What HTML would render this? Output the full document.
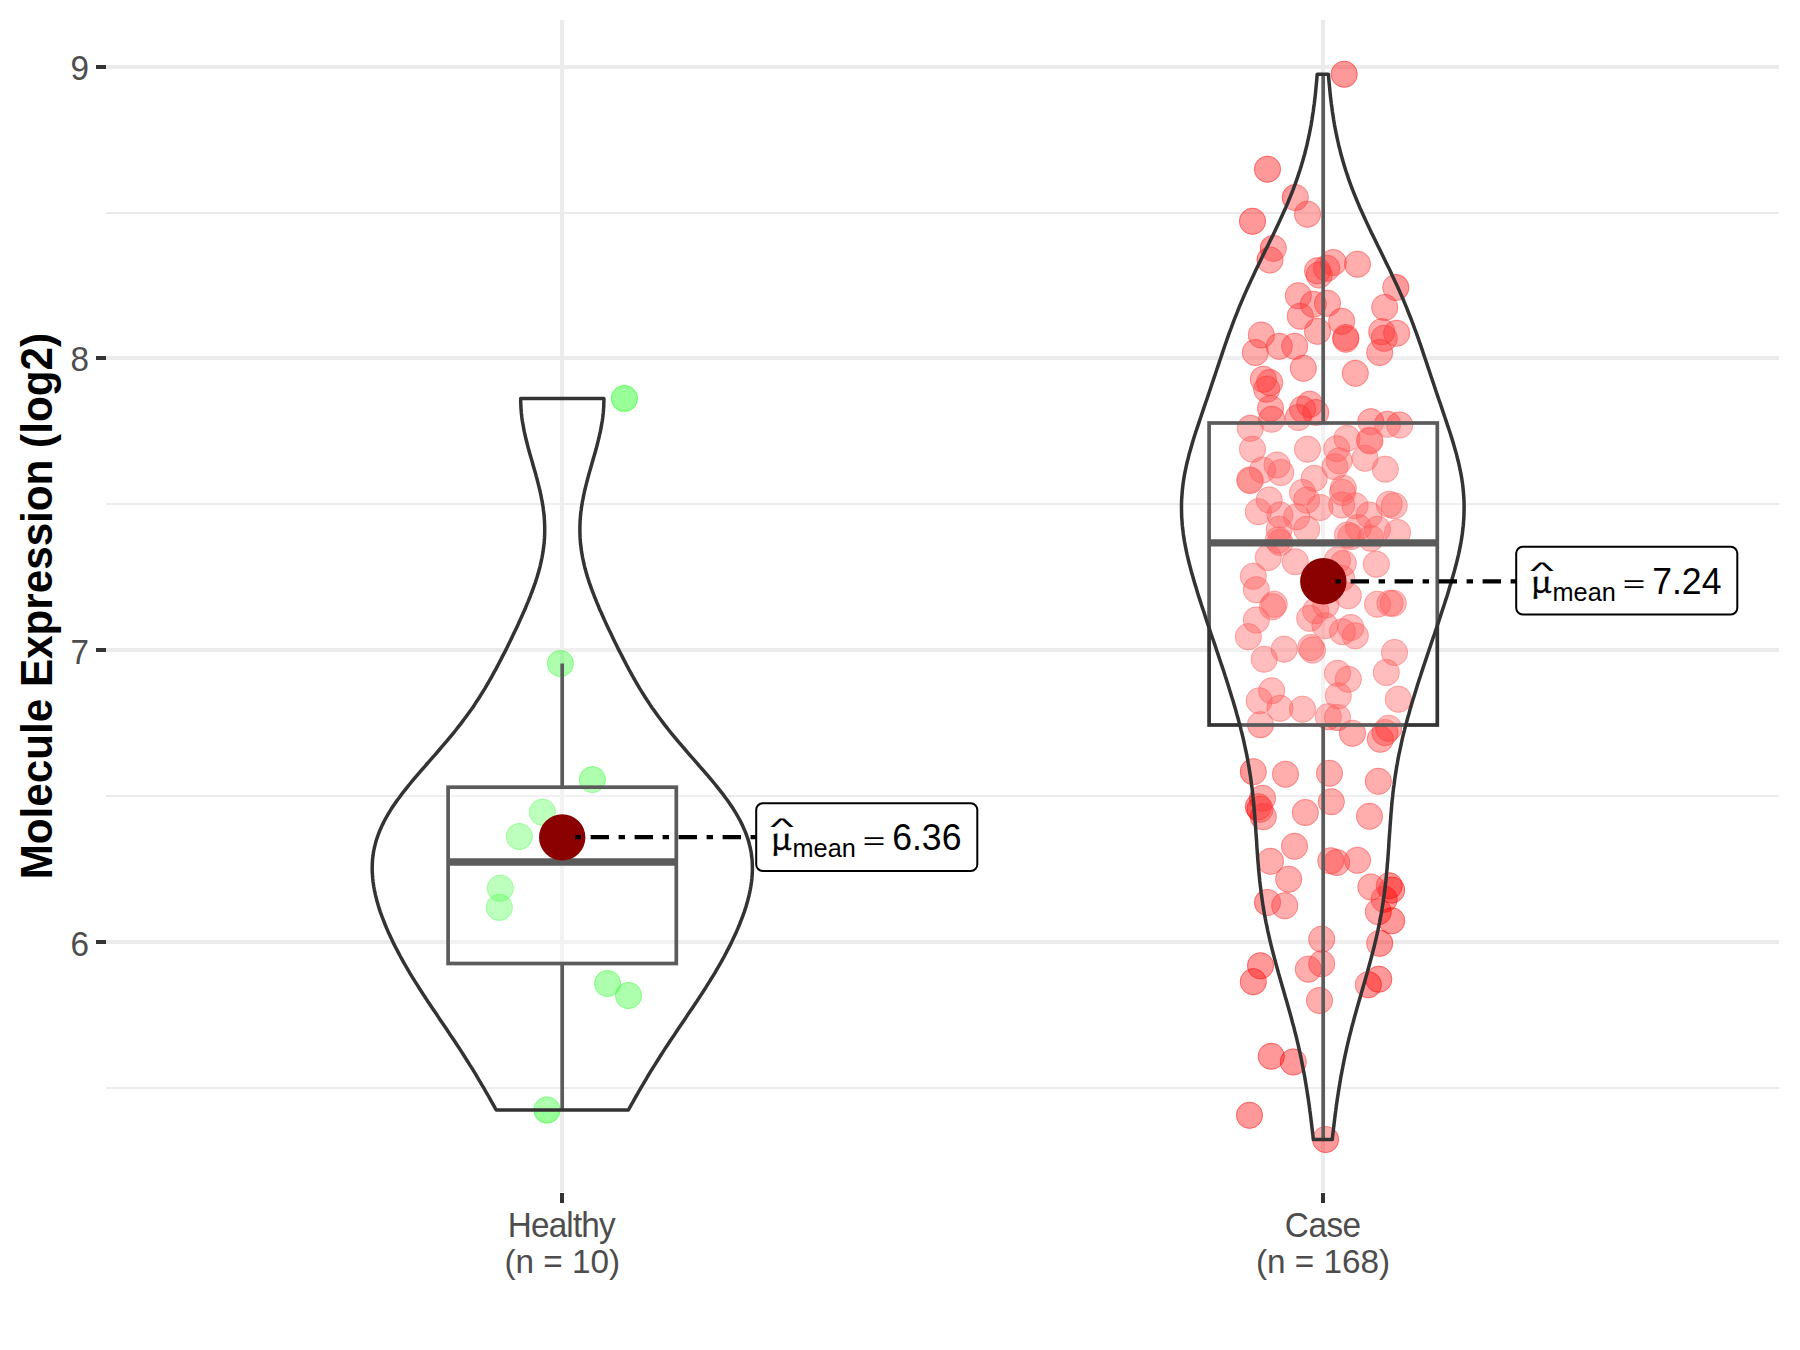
<!DOCTYPE html>
<html lang="en"><head><meta charset="utf-8"><title>Molecule Expression violin plot</title>
<style>html,body{margin:0;padding:0;background:#fff;overflow:hidden}svg{display:block}text{font-family:"Liberation Sans",Arial,sans-serif}.ax{font-size:33.3px;fill:#4D4D4D}.ttl{font-size:42.2px;font-weight:bold;fill:#000}.mu{font-family:"Noto Serif CJK SC","Liberation Serif",serif;font-size:30.5px;fill:#000}.eq{font-size:24.5px;fill:#000}.hat{font-size:23px;fill:#000}.lb{font-size:35.6px;fill:#000}.sub{font-size:25.3px;fill:#000}</style></head><body>
<svg width="1800" height="1350" viewBox="0 0 1800 1350">
<rect x="0" y="0" width="1800" height="1350" fill="#FFFFFF"/>
<g fill="#EBEBEB" shape-rendering="crispEdges">
<rect x="106.2" y="212.0" width="1672.8" height="2"/>
<rect x="106.2" y="503.0" width="1672.8" height="2"/>
<rect x="106.2" y="795.0" width="1672.8" height="2"/>
<rect x="106.2" y="1087.0" width="1672.8" height="2"/>
<rect x="106.2" y="65.0" width="1672.8" height="4"/>
<rect x="106.2" y="356.0" width="1672.8" height="4"/>
<rect x="106.2" y="648.0" width="1672.8" height="4"/>
<rect x="106.2" y="940.0" width="1672.8" height="4"/>
<rect x="560.0" y="20.0" width="4" height="1172.3"/>
<rect x="1321.0" y="20.0" width="4" height="1172.3"/>
</g>
<g fill="#00FF00" fill-opacity="0.4">
<circle cx="624.4" cy="398.4" r="13.45"/>
<circle cx="560.4" cy="663.5" r="13.45"/>
<circle cx="592.4" cy="779.6" r="13.45"/>
<circle cx="542.4" cy="812.2" r="13.45"/>
<circle cx="519.3" cy="836.5" r="13.45"/>
<circle cx="500.3" cy="888.3" r="13.45"/>
<circle cx="499.3" cy="907.4" r="13.45"/>
<circle cx="607.5" cy="983.5" r="13.45"/>
<circle cx="628.5" cy="995.5" r="13.45"/>
<circle cx="547.0" cy="1110.0" r="13.45"/>
</g>
<g fill="none" stroke="#00FF00" stroke-opacity="0.4" stroke-width="0.9">
<circle cx="624.4" cy="398.4" r="13"/>
<circle cx="560.4" cy="663.5" r="13"/>
<circle cx="592.4" cy="779.6" r="13"/>
<circle cx="542.4" cy="812.2" r="13"/>
<circle cx="519.3" cy="836.5" r="13"/>
<circle cx="500.3" cy="888.3" r="13"/>
<circle cx="499.3" cy="907.4" r="13"/>
<circle cx="607.5" cy="983.5" r="13"/>
<circle cx="628.5" cy="995.5" r="13"/>
<circle cx="547.0" cy="1110.0" r="13"/>
</g>
<g fill="#FF0000" fill-opacity="0.4">
<circle cx="1344.2" cy="74.2" r="13.45"/>
<circle cx="1267.5" cy="169.2" r="13.45"/>
<circle cx="1295.3" cy="197.5" r="13.45"/>
<circle cx="1307.5" cy="214.2" r="13.45"/>
<circle cx="1252.5" cy="221.3" r="13.45"/>
<circle cx="1273.3" cy="248.3" r="13.45"/>
<circle cx="1270.0" cy="260.0" r="13.45"/>
<circle cx="1357.5" cy="264.2" r="13.45"/>
<circle cx="1333.3" cy="262.5" r="13.45"/>
<circle cx="1326.7" cy="268.3" r="13.45"/>
<circle cx="1317.5" cy="270.8" r="13.45"/>
<circle cx="1319.2" cy="275.0" r="13.45"/>
<circle cx="1395.8" cy="287.5" r="13.45"/>
<circle cx="1298.3" cy="295.8" r="13.45"/>
<circle cx="1313.3" cy="304.2" r="13.45"/>
<circle cx="1327.5" cy="303.3" r="13.45"/>
<circle cx="1384.7" cy="307.5" r="13.45"/>
<circle cx="1300.3" cy="316.3" r="13.45"/>
<circle cx="1341.7" cy="321.3" r="13.45"/>
<circle cx="1317.5" cy="331.3" r="13.45"/>
<circle cx="1261.3" cy="335.0" r="13.45"/>
<circle cx="1345.8" cy="337.5" r="13.45"/>
<circle cx="1345.8" cy="339.2" r="13.45"/>
<circle cx="1381.7" cy="331.7" r="13.45"/>
<circle cx="1396.7" cy="333.3" r="13.45"/>
<circle cx="1384.2" cy="338.3" r="13.45"/>
<circle cx="1279.2" cy="346.3" r="13.45"/>
<circle cx="1294.7" cy="346.3" r="13.45"/>
<circle cx="1255.3" cy="352.5" r="13.45"/>
<circle cx="1379.7" cy="352.5" r="13.45"/>
<circle cx="1303.3" cy="368.3" r="13.45"/>
<circle cx="1355.3" cy="373.3" r="13.45"/>
<circle cx="1263.3" cy="379.2" r="13.45"/>
<circle cx="1269.7" cy="382.5" r="13.45"/>
<circle cx="1266.7" cy="389.2" r="13.45"/>
<circle cx="1270.5" cy="408.3" r="13.45"/>
<circle cx="1271.7" cy="419.2" r="13.45"/>
<circle cx="1309.7" cy="404.2" r="13.45"/>
<circle cx="1302.5" cy="409.2" r="13.45"/>
<circle cx="1298.3" cy="417.5" r="13.45"/>
<circle cx="1315.8" cy="412.5" r="13.45"/>
<circle cx="1250.3" cy="428.3" r="13.45"/>
<circle cx="1370.8" cy="421.7" r="13.45"/>
<circle cx="1387.5" cy="424.2" r="13.45"/>
<circle cx="1399.7" cy="425.0" r="13.45"/>
<circle cx="1347.0" cy="438.3" r="13.45"/>
<circle cx="1369.5" cy="440.3" r="13.45"/>
<circle cx="1336.7" cy="448.7" r="13.45"/>
<circle cx="1307.5" cy="449.2" r="13.45"/>
<circle cx="1252.5" cy="449.2" r="13.45"/>
<circle cx="1339.2" cy="460.8" r="13.45"/>
<circle cx="1365.0" cy="458.3" r="13.45"/>
<circle cx="1277.0" cy="465.0" r="13.45"/>
<circle cx="1262.5" cy="470.0" r="13.45"/>
<circle cx="1280.8" cy="472.5" r="13.45"/>
<circle cx="1335.0" cy="466.7" r="13.45"/>
<circle cx="1385.3" cy="469.2" r="13.45"/>
<circle cx="1249.7" cy="480.0" r="13.45"/>
<circle cx="1314.2" cy="478.3" r="13.45"/>
<circle cx="1343.3" cy="488.3" r="13.45"/>
<circle cx="1302.5" cy="492.5" r="13.45"/>
<circle cx="1342.5" cy="492.5" r="13.45"/>
<circle cx="1269.2" cy="500.0" r="13.45"/>
<circle cx="1306.7" cy="500.0" r="13.45"/>
<circle cx="1389.2" cy="504.2" r="13.45"/>
<circle cx="1394.2" cy="505.8" r="13.45"/>
<circle cx="1258.3" cy="511.7" r="13.45"/>
<circle cx="1280.0" cy="515.0" r="13.45"/>
<circle cx="1279.2" cy="529.2" r="13.45"/>
<circle cx="1278.3" cy="540.0" r="13.45"/>
<circle cx="1280.0" cy="542.5" r="13.45"/>
<circle cx="1296.7" cy="516.7" r="13.45"/>
<circle cx="1306.7" cy="529.2" r="13.45"/>
<circle cx="1320.0" cy="507.5" r="13.45"/>
<circle cx="1341.7" cy="505.0" r="13.45"/>
<circle cx="1355.0" cy="505.8" r="13.45"/>
<circle cx="1369.2" cy="515.0" r="13.45"/>
<circle cx="1377.5" cy="529.2" r="13.45"/>
<circle cx="1397.5" cy="532.5" r="13.45"/>
<circle cx="1347.5" cy="535.0" r="13.45"/>
<circle cx="1350.8" cy="536.7" r="13.45"/>
<circle cx="1370.8" cy="538.3" r="13.45"/>
<circle cx="1358.3" cy="527.5" r="13.45"/>
<circle cx="1268.3" cy="557.5" r="13.45"/>
<circle cx="1295.3" cy="561.7" r="13.45"/>
<circle cx="1337.5" cy="560.0" r="13.45"/>
<circle cx="1343.3" cy="563.3" r="13.45"/>
<circle cx="1376.3" cy="564.2" r="13.45"/>
<circle cx="1253.3" cy="576.3" r="13.45"/>
<circle cx="1256.3" cy="589.7" r="13.45"/>
<circle cx="1341.7" cy="578.3" r="13.45"/>
<circle cx="1348.3" cy="595.8" r="13.45"/>
<circle cx="1274.2" cy="604.2" r="13.45"/>
<circle cx="1272.5" cy="606.7" r="13.45"/>
<circle cx="1377.5" cy="604.2" r="13.45"/>
<circle cx="1390.0" cy="603.3" r="13.45"/>
<circle cx="1393.3" cy="603.3" r="13.45"/>
<circle cx="1315.8" cy="610.8" r="13.45"/>
<circle cx="1325.8" cy="605.0" r="13.45"/>
<circle cx="1256.3" cy="620.0" r="13.45"/>
<circle cx="1309.7" cy="618.3" r="13.45"/>
<circle cx="1325.0" cy="625.8" r="13.45"/>
<circle cx="1342.5" cy="631.7" r="13.45"/>
<circle cx="1350.8" cy="627.5" r="13.45"/>
<circle cx="1355.3" cy="635.8" r="13.45"/>
<circle cx="1248.3" cy="636.7" r="13.45"/>
<circle cx="1284.2" cy="649.2" r="13.45"/>
<circle cx="1310.8" cy="647.5" r="13.45"/>
<circle cx="1312.5" cy="650.0" r="13.45"/>
<circle cx="1264.2" cy="659.2" r="13.45"/>
<circle cx="1394.5" cy="652.5" r="13.45"/>
<circle cx="1337.5" cy="673.3" r="13.45"/>
<circle cx="1348.3" cy="679.2" r="13.45"/>
<circle cx="1386.3" cy="672.5" r="13.45"/>
<circle cx="1271.7" cy="690.8" r="13.45"/>
<circle cx="1259.2" cy="700.8" r="13.45"/>
<circle cx="1338.3" cy="695.8" r="13.45"/>
<circle cx="1398.3" cy="699.2" r="13.45"/>
<circle cx="1280.0" cy="708.3" r="13.45"/>
<circle cx="1302.5" cy="709.2" r="13.45"/>
<circle cx="1328.3" cy="716.7" r="13.45"/>
<circle cx="1337.5" cy="717.5" r="13.45"/>
<circle cx="1260.5" cy="724.7" r="13.45"/>
<circle cx="1352.5" cy="733.3" r="13.45"/>
<circle cx="1388.7" cy="728.3" r="13.45"/>
<circle cx="1385.0" cy="732.5" r="13.45"/>
<circle cx="1380.3" cy="739.2" r="13.45"/>
<circle cx="1253.3" cy="771.7" r="13.45"/>
<circle cx="1285.5" cy="774.2" r="13.45"/>
<circle cx="1329.5" cy="773.3" r="13.45"/>
<circle cx="1378.3" cy="781.3" r="13.45"/>
<circle cx="1262.5" cy="798.3" r="13.45"/>
<circle cx="1258.3" cy="806.7" r="13.45"/>
<circle cx="1260.0" cy="809.2" r="13.45"/>
<circle cx="1263.3" cy="816.7" r="13.45"/>
<circle cx="1331.3" cy="801.7" r="13.45"/>
<circle cx="1305.3" cy="812.5" r="13.45"/>
<circle cx="1369.5" cy="816.3" r="13.45"/>
<circle cx="1294.5" cy="846.3" r="13.45"/>
<circle cx="1270.5" cy="861.3" r="13.45"/>
<circle cx="1330.8" cy="860.8" r="13.45"/>
<circle cx="1336.7" cy="862.5" r="13.45"/>
<circle cx="1357.5" cy="860.3" r="13.45"/>
<circle cx="1288.7" cy="879.2" r="13.45"/>
<circle cx="1370.8" cy="887.0" r="13.45"/>
<circle cx="1389.2" cy="885.8" r="13.45"/>
<circle cx="1391.7" cy="890.0" r="13.45"/>
<circle cx="1384.2" cy="899.2" r="13.45"/>
<circle cx="1267.5" cy="902.5" r="13.45"/>
<circle cx="1284.7" cy="905.8" r="13.45"/>
<circle cx="1378.3" cy="911.7" r="13.45"/>
<circle cx="1391.7" cy="920.8" r="13.45"/>
<circle cx="1321.7" cy="939.2" r="13.45"/>
<circle cx="1379.7" cy="943.3" r="13.45"/>
<circle cx="1260.5" cy="965.8" r="13.45"/>
<circle cx="1308.3" cy="969.2" r="13.45"/>
<circle cx="1321.7" cy="963.7" r="13.45"/>
<circle cx="1253.3" cy="981.7" r="13.45"/>
<circle cx="1378.8" cy="979.2" r="13.45"/>
<circle cx="1368.3" cy="984.7" r="13.45"/>
<circle cx="1319.5" cy="1000.5" r="13.45"/>
<circle cx="1271.2" cy="1056.3" r="13.45"/>
<circle cx="1293.3" cy="1062.0" r="13.45"/>
<circle cx="1249.5" cy="1115.3" r="13.45"/>
<circle cx="1325.6" cy="1139.5" r="13.45"/>
<circle cx="1250.3" cy="480.6" r="13.45"/>
<circle cx="1370.0" cy="440.9" r="13.45"/>
<circle cx="1323.0" cy="581.0" r="13.45"/>
</g>
<g fill="none" stroke="#FF0000" stroke-opacity="0.4" stroke-width="0.9">
<circle cx="1344.2" cy="74.2" r="13"/>
<circle cx="1267.5" cy="169.2" r="13"/>
<circle cx="1295.3" cy="197.5" r="13"/>
<circle cx="1307.5" cy="214.2" r="13"/>
<circle cx="1252.5" cy="221.3" r="13"/>
<circle cx="1273.3" cy="248.3" r="13"/>
<circle cx="1270.0" cy="260.0" r="13"/>
<circle cx="1357.5" cy="264.2" r="13"/>
<circle cx="1333.3" cy="262.5" r="13"/>
<circle cx="1326.7" cy="268.3" r="13"/>
<circle cx="1317.5" cy="270.8" r="13"/>
<circle cx="1319.2" cy="275.0" r="13"/>
<circle cx="1395.8" cy="287.5" r="13"/>
<circle cx="1298.3" cy="295.8" r="13"/>
<circle cx="1313.3" cy="304.2" r="13"/>
<circle cx="1327.5" cy="303.3" r="13"/>
<circle cx="1384.7" cy="307.5" r="13"/>
<circle cx="1300.3" cy="316.3" r="13"/>
<circle cx="1341.7" cy="321.3" r="13"/>
<circle cx="1317.5" cy="331.3" r="13"/>
<circle cx="1261.3" cy="335.0" r="13"/>
<circle cx="1345.8" cy="337.5" r="13"/>
<circle cx="1345.8" cy="339.2" r="13"/>
<circle cx="1381.7" cy="331.7" r="13"/>
<circle cx="1396.7" cy="333.3" r="13"/>
<circle cx="1384.2" cy="338.3" r="13"/>
<circle cx="1279.2" cy="346.3" r="13"/>
<circle cx="1294.7" cy="346.3" r="13"/>
<circle cx="1255.3" cy="352.5" r="13"/>
<circle cx="1379.7" cy="352.5" r="13"/>
<circle cx="1303.3" cy="368.3" r="13"/>
<circle cx="1355.3" cy="373.3" r="13"/>
<circle cx="1263.3" cy="379.2" r="13"/>
<circle cx="1269.7" cy="382.5" r="13"/>
<circle cx="1266.7" cy="389.2" r="13"/>
<circle cx="1270.5" cy="408.3" r="13"/>
<circle cx="1271.7" cy="419.2" r="13"/>
<circle cx="1309.7" cy="404.2" r="13"/>
<circle cx="1302.5" cy="409.2" r="13"/>
<circle cx="1298.3" cy="417.5" r="13"/>
<circle cx="1315.8" cy="412.5" r="13"/>
<circle cx="1250.3" cy="428.3" r="13"/>
<circle cx="1370.8" cy="421.7" r="13"/>
<circle cx="1387.5" cy="424.2" r="13"/>
<circle cx="1399.7" cy="425.0" r="13"/>
<circle cx="1347.0" cy="438.3" r="13"/>
<circle cx="1369.5" cy="440.3" r="13"/>
<circle cx="1336.7" cy="448.7" r="13"/>
<circle cx="1307.5" cy="449.2" r="13"/>
<circle cx="1252.5" cy="449.2" r="13"/>
<circle cx="1339.2" cy="460.8" r="13"/>
<circle cx="1365.0" cy="458.3" r="13"/>
<circle cx="1277.0" cy="465.0" r="13"/>
<circle cx="1262.5" cy="470.0" r="13"/>
<circle cx="1280.8" cy="472.5" r="13"/>
<circle cx="1335.0" cy="466.7" r="13"/>
<circle cx="1385.3" cy="469.2" r="13"/>
<circle cx="1249.7" cy="480.0" r="13"/>
<circle cx="1314.2" cy="478.3" r="13"/>
<circle cx="1343.3" cy="488.3" r="13"/>
<circle cx="1302.5" cy="492.5" r="13"/>
<circle cx="1342.5" cy="492.5" r="13"/>
<circle cx="1269.2" cy="500.0" r="13"/>
<circle cx="1306.7" cy="500.0" r="13"/>
<circle cx="1389.2" cy="504.2" r="13"/>
<circle cx="1394.2" cy="505.8" r="13"/>
<circle cx="1258.3" cy="511.7" r="13"/>
<circle cx="1280.0" cy="515.0" r="13"/>
<circle cx="1279.2" cy="529.2" r="13"/>
<circle cx="1278.3" cy="540.0" r="13"/>
<circle cx="1280.0" cy="542.5" r="13"/>
<circle cx="1296.7" cy="516.7" r="13"/>
<circle cx="1306.7" cy="529.2" r="13"/>
<circle cx="1320.0" cy="507.5" r="13"/>
<circle cx="1341.7" cy="505.0" r="13"/>
<circle cx="1355.0" cy="505.8" r="13"/>
<circle cx="1369.2" cy="515.0" r="13"/>
<circle cx="1377.5" cy="529.2" r="13"/>
<circle cx="1397.5" cy="532.5" r="13"/>
<circle cx="1347.5" cy="535.0" r="13"/>
<circle cx="1350.8" cy="536.7" r="13"/>
<circle cx="1370.8" cy="538.3" r="13"/>
<circle cx="1358.3" cy="527.5" r="13"/>
<circle cx="1268.3" cy="557.5" r="13"/>
<circle cx="1295.3" cy="561.7" r="13"/>
<circle cx="1337.5" cy="560.0" r="13"/>
<circle cx="1343.3" cy="563.3" r="13"/>
<circle cx="1376.3" cy="564.2" r="13"/>
<circle cx="1253.3" cy="576.3" r="13"/>
<circle cx="1256.3" cy="589.7" r="13"/>
<circle cx="1341.7" cy="578.3" r="13"/>
<circle cx="1348.3" cy="595.8" r="13"/>
<circle cx="1274.2" cy="604.2" r="13"/>
<circle cx="1272.5" cy="606.7" r="13"/>
<circle cx="1377.5" cy="604.2" r="13"/>
<circle cx="1390.0" cy="603.3" r="13"/>
<circle cx="1393.3" cy="603.3" r="13"/>
<circle cx="1315.8" cy="610.8" r="13"/>
<circle cx="1325.8" cy="605.0" r="13"/>
<circle cx="1256.3" cy="620.0" r="13"/>
<circle cx="1309.7" cy="618.3" r="13"/>
<circle cx="1325.0" cy="625.8" r="13"/>
<circle cx="1342.5" cy="631.7" r="13"/>
<circle cx="1350.8" cy="627.5" r="13"/>
<circle cx="1355.3" cy="635.8" r="13"/>
<circle cx="1248.3" cy="636.7" r="13"/>
<circle cx="1284.2" cy="649.2" r="13"/>
<circle cx="1310.8" cy="647.5" r="13"/>
<circle cx="1312.5" cy="650.0" r="13"/>
<circle cx="1264.2" cy="659.2" r="13"/>
<circle cx="1394.5" cy="652.5" r="13"/>
<circle cx="1337.5" cy="673.3" r="13"/>
<circle cx="1348.3" cy="679.2" r="13"/>
<circle cx="1386.3" cy="672.5" r="13"/>
<circle cx="1271.7" cy="690.8" r="13"/>
<circle cx="1259.2" cy="700.8" r="13"/>
<circle cx="1338.3" cy="695.8" r="13"/>
<circle cx="1398.3" cy="699.2" r="13"/>
<circle cx="1280.0" cy="708.3" r="13"/>
<circle cx="1302.5" cy="709.2" r="13"/>
<circle cx="1328.3" cy="716.7" r="13"/>
<circle cx="1337.5" cy="717.5" r="13"/>
<circle cx="1260.5" cy="724.7" r="13"/>
<circle cx="1352.5" cy="733.3" r="13"/>
<circle cx="1388.7" cy="728.3" r="13"/>
<circle cx="1385.0" cy="732.5" r="13"/>
<circle cx="1380.3" cy="739.2" r="13"/>
<circle cx="1253.3" cy="771.7" r="13"/>
<circle cx="1285.5" cy="774.2" r="13"/>
<circle cx="1329.5" cy="773.3" r="13"/>
<circle cx="1378.3" cy="781.3" r="13"/>
<circle cx="1262.5" cy="798.3" r="13"/>
<circle cx="1258.3" cy="806.7" r="13"/>
<circle cx="1260.0" cy="809.2" r="13"/>
<circle cx="1263.3" cy="816.7" r="13"/>
<circle cx="1331.3" cy="801.7" r="13"/>
<circle cx="1305.3" cy="812.5" r="13"/>
<circle cx="1369.5" cy="816.3" r="13"/>
<circle cx="1294.5" cy="846.3" r="13"/>
<circle cx="1270.5" cy="861.3" r="13"/>
<circle cx="1330.8" cy="860.8" r="13"/>
<circle cx="1336.7" cy="862.5" r="13"/>
<circle cx="1357.5" cy="860.3" r="13"/>
<circle cx="1288.7" cy="879.2" r="13"/>
<circle cx="1370.8" cy="887.0" r="13"/>
<circle cx="1389.2" cy="885.8" r="13"/>
<circle cx="1391.7" cy="890.0" r="13"/>
<circle cx="1384.2" cy="899.2" r="13"/>
<circle cx="1267.5" cy="902.5" r="13"/>
<circle cx="1284.7" cy="905.8" r="13"/>
<circle cx="1378.3" cy="911.7" r="13"/>
<circle cx="1391.7" cy="920.8" r="13"/>
<circle cx="1321.7" cy="939.2" r="13"/>
<circle cx="1379.7" cy="943.3" r="13"/>
<circle cx="1260.5" cy="965.8" r="13"/>
<circle cx="1308.3" cy="969.2" r="13"/>
<circle cx="1321.7" cy="963.7" r="13"/>
<circle cx="1253.3" cy="981.7" r="13"/>
<circle cx="1378.8" cy="979.2" r="13"/>
<circle cx="1368.3" cy="984.7" r="13"/>
<circle cx="1319.5" cy="1000.5" r="13"/>
<circle cx="1271.2" cy="1056.3" r="13"/>
<circle cx="1293.3" cy="1062.0" r="13"/>
<circle cx="1249.5" cy="1115.3" r="13"/>
<circle cx="1325.6" cy="1139.5" r="13"/>
<circle cx="1250.3" cy="480.6" r="13"/>
<circle cx="1370.0" cy="440.9" r="13"/>
<circle cx="1323.0" cy="581.0" r="13"/>
</g>
<g stroke="#333333" stroke-width="3.7" fill="none">
<line x1="562.2" y1="663.5" x2="562.2" y2="787.2"/>
<line x1="562.2" y1="963.5" x2="562.2" y2="1110.0"/>
<rect x="448.1" y="787.2" width="228.2" height="176.3" fill="#FFFFFF" fill-opacity="0.2" stroke-linejoin="miter"/>
<line x1="448.1" y1="862.0" x2="676.3" y2="862.0" stroke-width="7.4"/>
</g>
<g stroke="#333333" stroke-width="3.7" fill="none">
<line x1="1323.2" y1="74.0" x2="1323.2" y2="423.0"/>
<line x1="1323.2" y1="725.0" x2="1323.2" y2="1139.2"/>
<rect x="1209.1" y="423.0" width="228.2" height="302.0" fill="#FFFFFF" fill-opacity="0.2" stroke-linejoin="miter"/>
<line x1="1209.1" y1="542.9" x2="1437.3" y2="542.9" stroke-width="7.4"/>
</g>
<path d="M496.2 1110.0 L494.6 1107.2 L493.1 1104.4 L491.5 1101.6 L490.0 1098.8 L488.4 1096.0 L486.8 1093.3 L485.2 1090.5 L483.6 1087.7 L481.9 1084.9 L480.3 1082.1 L478.6 1079.3 L477.0 1076.5 L475.3 1073.7 L473.6 1070.9 L471.9 1068.1 L470.1 1065.4 L468.4 1062.6 L466.6 1059.8 L464.9 1057.0 L463.1 1054.2 L461.3 1051.4 L459.5 1048.6 L457.6 1045.8 L455.8 1043.0 L454.0 1040.2 L452.1 1037.4 L450.2 1034.7 L448.4 1031.9 L446.5 1029.1 L444.6 1026.3 L442.7 1023.5 L440.8 1020.7 L438.9 1017.9 L437.1 1015.1 L435.2 1012.3 L433.3 1009.5 L431.4 1006.7 L429.6 1004.0 L427.7 1001.2 L425.9 998.4 L424.0 995.6 L422.2 992.8 L420.4 990.0 L418.6 987.2 L416.9 984.4 L415.1 981.6 L413.4 978.8 L411.7 976.1 L410.0 973.3 L408.4 970.5 L406.7 967.7 L405.1 964.9 L403.5 962.1 L402.0 959.3 L400.4 956.5 L398.9 953.7 L397.5 950.9 L396.0 948.1 L394.6 945.4 L393.2 942.6 L391.9 939.8 L390.6 937.0 L389.3 934.2 L388.0 931.4 L386.8 928.6 L385.6 925.8 L384.5 923.0 L383.4 920.2 L382.3 917.4 L381.3 914.7 L380.3 911.9 L379.4 909.1 L378.5 906.3 L377.7 903.5 L376.9 900.7 L376.2 897.9 L375.5 895.1 L374.9 892.3 L374.3 889.5 L373.8 886.8 L373.4 884.0 L373.0 881.2 L372.7 878.4 L372.5 875.6 L372.3 872.8 L372.2 870.0 L372.2 867.2 L372.3 864.4 L372.4 861.6 L372.6 858.8 L373.0 856.1 L373.3 853.3 L373.8 850.5 L374.4 847.7 L375.1 844.9 L375.8 842.1 L376.6 839.3 L377.6 836.5 L378.6 833.7 L379.7 830.9 L380.9 828.2 L382.1 825.4 L383.5 822.6 L384.9 819.8 L386.5 817.0 L388.1 814.2 L389.8 811.4 L391.5 808.6 L393.4 805.8 L395.3 803.0 L397.2 800.2 L399.3 797.5 L401.3 794.7 L403.5 791.9 L405.7 789.1 L407.9 786.3 L410.2 783.5 L412.5 780.7 L414.9 777.9 L417.2 775.1 L419.6 772.3 L422.1 769.5 L424.5 766.8 L426.9 764.0 L429.4 761.2 L431.8 758.4 L434.3 755.6 L436.7 752.8 L439.1 750.0 L441.5 747.2 L443.9 744.4 L446.3 741.6 L448.6 738.9 L450.9 736.1 L453.2 733.3 L455.5 730.5 L457.7 727.7 L459.9 724.9 L462.0 722.1 L464.1 719.3 L466.2 716.5 L468.2 713.7 L470.2 710.9 L472.2 708.2 L474.1 705.4 L475.9 702.6 L477.8 699.8 L479.6 697.0 L481.3 694.2 L483.1 691.4 L484.8 688.6 L486.4 685.8 L488.1 683.0 L489.7 680.2 L491.3 677.5 L492.8 674.7 L494.3 671.9 L495.9 669.1 L497.3 666.3 L498.8 663.5 L500.3 660.7 L501.7 657.9 L503.1 655.1 L504.6 652.3 L506.0 649.6 L507.4 646.8 L508.7 644.0 L510.1 641.2 L511.5 638.4 L512.8 635.6 L514.1 632.8 L515.5 630.0 L516.8 627.2 L518.1 624.4 L519.4 621.6 L520.6 618.9 L521.9 616.1 L523.1 613.3 L524.4 610.5 L525.6 607.7 L526.7 604.9 L527.9 602.1 L529.0 599.3 L530.2 596.5 L531.2 593.7 L532.3 591.0 L533.3 588.2 L534.3 585.4 L535.3 582.6 L536.2 579.8 L537.1 577.0 L537.9 574.2 L538.7 571.4 L539.5 568.6 L540.2 565.8 L540.8 563.0 L541.4 560.3 L542.0 557.5 L542.5 554.7 L543.0 551.9 L543.4 549.1 L543.7 546.3 L544.1 543.5 L544.3 540.7 L544.5 537.9 L544.6 535.1 L544.7 532.3 L544.7 529.6 L544.7 526.8 L544.6 524.0 L544.5 521.2 L544.3 518.4 L544.1 515.6 L543.8 512.8 L543.4 510.0 L543.1 507.2 L542.6 504.4 L542.2 501.7 L541.6 498.9 L541.1 496.1 L540.5 493.3 L539.9 490.5 L539.2 487.7 L538.5 484.9 L537.8 482.1 L537.1 479.3 L536.3 476.5 L535.6 473.7 L534.8 471.0 L534.0 468.2 L533.2 465.4 L532.4 462.6 L531.6 459.8 L530.8 457.0 L530.0 454.2 L529.2 451.4 L528.4 448.6 L527.7 445.8 L527.0 443.0 L526.3 440.3 L525.6 437.5 L525.0 434.7 L524.3 431.9 L523.8 429.1 L523.3 426.3 L522.8 423.5 L522.3 420.7 L521.9 417.9 L521.6 415.1 L521.3 412.4 L521.1 409.6 L520.9 406.8 L520.8 404.0 L520.7 401.2 L520.7 398.4 L603.9 398.4 L603.9 401.2 L603.8 404.0 L603.7 406.8 L603.5 409.6 L603.3 412.4 L603.0 415.1 L602.7 417.9 L602.3 420.7 L601.8 423.5 L601.3 426.3 L600.8 429.1 L600.3 431.9 L599.6 434.7 L599.0 437.5 L598.3 440.3 L597.6 443.0 L596.9 445.8 L596.2 448.6 L595.4 451.4 L594.6 454.2 L593.8 457.0 L593.0 459.8 L592.2 462.6 L591.4 465.4 L590.6 468.2 L589.8 471.0 L589.0 473.7 L588.3 476.5 L587.5 479.3 L586.8 482.1 L586.1 484.9 L585.4 487.7 L584.7 490.5 L584.1 493.3 L583.5 496.1 L583.0 498.9 L582.4 501.7 L582.0 504.4 L581.5 507.2 L581.2 510.0 L580.8 512.8 L580.5 515.6 L580.3 518.4 L580.1 521.2 L580.0 524.0 L579.9 526.8 L579.9 529.6 L579.9 532.3 L580.0 535.1 L580.1 537.9 L580.3 540.7 L580.5 543.5 L580.9 546.3 L581.2 549.1 L581.6 551.9 L582.1 554.7 L582.6 557.5 L583.2 560.3 L583.8 563.0 L584.4 565.8 L585.1 568.6 L585.9 571.4 L586.7 574.2 L587.5 577.0 L588.4 579.8 L589.3 582.6 L590.3 585.4 L591.3 588.2 L592.3 591.0 L593.4 593.7 L594.4 596.5 L595.6 599.3 L596.7 602.1 L597.9 604.9 L599.0 607.7 L600.2 610.5 L601.5 613.3 L602.7 616.1 L604.0 618.9 L605.2 621.6 L606.5 624.4 L607.8 627.2 L609.1 630.0 L610.5 632.8 L611.8 635.6 L613.1 638.4 L614.5 641.2 L615.9 644.0 L617.2 646.8 L618.6 649.6 L620.0 652.3 L621.5 655.1 L622.9 657.9 L624.3 660.7 L625.8 663.5 L627.3 666.3 L628.7 669.1 L630.3 671.9 L631.8 674.7 L633.3 677.5 L634.9 680.2 L636.5 683.0 L638.2 685.8 L639.8 688.6 L641.5 691.4 L643.3 694.2 L645.0 697.0 L646.8 699.8 L648.7 702.6 L650.5 705.4 L652.4 708.2 L654.4 710.9 L656.4 713.7 L658.4 716.5 L660.5 719.3 L662.6 722.1 L664.7 724.9 L666.9 727.7 L669.1 730.5 L671.4 733.3 L673.7 736.1 L676.0 738.9 L678.3 741.6 L680.7 744.4 L683.1 747.2 L685.5 750.0 L687.9 752.8 L690.3 755.6 L692.8 758.4 L695.2 761.2 L697.7 764.0 L700.1 766.8 L702.5 769.5 L705.0 772.3 L707.4 775.1 L709.7 777.9 L712.1 780.7 L714.4 783.5 L716.7 786.3 L718.9 789.1 L721.1 791.9 L723.3 794.7 L725.3 797.5 L727.4 800.2 L729.3 803.0 L731.2 805.8 L733.1 808.6 L734.8 811.4 L736.5 814.2 L738.1 817.0 L739.7 819.8 L741.1 822.6 L742.5 825.4 L743.7 828.2 L744.9 830.9 L746.0 833.7 L747.0 836.5 L748.0 839.3 L748.8 842.1 L749.5 844.9 L750.2 847.7 L750.8 850.5 L751.3 853.3 L751.6 856.1 L752.0 858.8 L752.2 861.6 L752.3 864.4 L752.4 867.2 L752.4 870.0 L752.3 872.8 L752.1 875.6 L751.9 878.4 L751.6 881.2 L751.2 884.0 L750.8 886.8 L750.3 889.5 L749.7 892.3 L749.1 895.1 L748.4 897.9 L747.7 900.7 L746.9 903.5 L746.1 906.3 L745.2 909.1 L744.3 911.9 L743.3 914.7 L742.3 917.4 L741.2 920.2 L740.1 923.0 L739.0 925.8 L737.8 928.6 L736.6 931.4 L735.3 934.2 L734.0 937.0 L732.7 939.8 L731.4 942.6 L730.0 945.4 L728.6 948.1 L727.1 950.9 L725.7 953.7 L724.2 956.5 L722.6 959.3 L721.1 962.1 L719.5 964.9 L717.9 967.7 L716.2 970.5 L714.6 973.3 L712.9 976.1 L711.2 978.8 L709.5 981.6 L707.7 984.4 L706.0 987.2 L704.2 990.0 L702.4 992.8 L700.6 995.6 L698.7 998.4 L696.9 1001.2 L695.0 1004.0 L693.2 1006.7 L691.3 1009.5 L689.4 1012.3 L687.5 1015.1 L685.7 1017.9 L683.8 1020.7 L681.9 1023.5 L680.0 1026.3 L678.1 1029.1 L676.2 1031.9 L674.4 1034.7 L672.5 1037.4 L670.6 1040.2 L668.8 1043.0 L667.0 1045.8 L665.1 1048.6 L663.3 1051.4 L661.5 1054.2 L659.7 1057.0 L658.0 1059.8 L656.2 1062.6 L654.5 1065.4 L652.7 1068.1 L651.0 1070.9 L649.3 1073.7 L647.6 1076.5 L646.0 1079.3 L644.3 1082.1 L642.7 1084.9 L641.0 1087.7 L639.4 1090.5 L637.8 1093.3 L636.2 1096.0 L634.6 1098.8 L633.1 1101.6 L631.5 1104.4 L630.0 1107.2 L628.4 1110.0 Z" fill="#FFFFFF" fill-opacity="0.2" stroke="#333333" stroke-width="3.5" stroke-linejoin="round"/>
<path d="M1313.3 1139.5 L1312.9 1135.3 L1312.4 1131.1 L1311.9 1127.0 L1311.4 1122.8 L1310.9 1118.6 L1310.4 1114.4 L1309.8 1110.3 L1309.3 1106.1 L1308.7 1101.9 L1308.1 1097.7 L1307.4 1093.5 L1306.8 1089.4 L1306.1 1085.2 L1305.4 1081.0 L1304.7 1076.8 L1303.9 1072.7 L1303.1 1068.5 L1302.3 1064.3 L1301.5 1060.1 L1300.6 1055.9 L1299.7 1051.8 L1298.8 1047.6 L1297.8 1043.4 L1296.8 1039.2 L1295.8 1035.1 L1294.7 1030.9 L1293.7 1026.7 L1292.5 1022.5 L1291.4 1018.3 L1290.3 1014.2 L1289.1 1010.0 L1287.9 1005.8 L1286.7 1001.6 L1285.5 997.5 L1284.3 993.3 L1283.1 989.1 L1281.9 984.9 L1280.7 980.7 L1279.5 976.6 L1278.3 972.4 L1277.2 968.2 L1276.0 964.0 L1274.9 959.9 L1273.8 955.7 L1272.7 951.5 L1271.6 947.3 L1270.6 943.1 L1269.6 939.0 L1268.7 934.8 L1267.7 930.6 L1266.9 926.4 L1266.0 922.3 L1265.2 918.1 L1264.4 913.9 L1263.7 909.7 L1263.0 905.5 L1262.4 901.4 L1261.8 897.2 L1261.2 893.0 L1260.7 888.8 L1260.2 884.7 L1259.7 880.5 L1259.3 876.3 L1258.9 872.1 L1258.5 867.9 L1258.2 863.8 L1257.8 859.6 L1257.5 855.4 L1257.2 851.2 L1256.9 847.1 L1256.7 842.9 L1256.4 838.7 L1256.1 834.5 L1255.8 830.3 L1255.5 826.2 L1255.2 822.0 L1254.9 817.8 L1254.6 813.6 L1254.2 809.5 L1253.9 805.3 L1253.5 801.1 L1253.0 796.9 L1252.6 792.7 L1252.1 788.6 L1251.5 784.4 L1251.0 780.2 L1250.4 776.0 L1249.7 771.9 L1249.1 767.7 L1248.3 763.5 L1247.6 759.3 L1246.8 755.1 L1245.9 751.0 L1245.0 746.8 L1244.1 742.6 L1243.2 738.4 L1242.2 734.3 L1241.1 730.1 L1240.1 725.9 L1238.9 721.7 L1237.8 717.5 L1236.6 713.4 L1235.5 709.2 L1234.2 705.0 L1233.0 700.8 L1231.7 696.7 L1230.4 692.5 L1229.1 688.3 L1227.8 684.1 L1226.5 679.9 L1225.1 675.8 L1223.8 671.6 L1222.4 667.4 L1221.0 663.2 L1219.6 659.1 L1218.2 654.9 L1216.8 650.7 L1215.4 646.5 L1214.0 642.3 L1212.6 638.2 L1211.1 634.0 L1209.7 629.8 L1208.3 625.6 L1206.9 621.5 L1205.5 617.3 L1204.2 613.1 L1202.8 608.9 L1201.4 604.7 L1200.1 600.6 L1198.7 596.4 L1197.4 592.2 L1196.2 588.0 L1194.9 583.9 L1193.7 579.7 L1192.5 575.5 L1191.3 571.3 L1190.2 567.1 L1189.1 563.0 L1188.1 558.8 L1187.1 554.6 L1186.2 550.4 L1185.4 546.3 L1184.6 542.1 L1183.9 537.9 L1183.3 533.7 L1182.8 529.5 L1182.3 525.4 L1182.0 521.2 L1181.7 517.0 L1181.6 512.8 L1181.5 508.7 L1181.5 504.5 L1181.6 500.3 L1181.9 496.1 L1182.2 491.9 L1182.6 487.8 L1183.1 483.6 L1183.7 479.4 L1184.4 475.2 L1185.2 471.1 L1186.1 466.9 L1187.0 462.7 L1188.1 458.5 L1189.1 454.3 L1190.3 450.2 L1191.5 446.0 L1192.7 441.8 L1194.0 437.6 L1195.3 433.5 L1196.7 429.3 L1198.1 425.1 L1199.5 420.9 L1200.9 416.7 L1202.3 412.6 L1203.7 408.4 L1205.1 404.2 L1206.6 400.0 L1208.0 395.9 L1209.4 391.7 L1210.8 387.5 L1212.2 383.3 L1213.6 379.1 L1215.0 375.0 L1216.4 370.8 L1217.8 366.6 L1219.2 362.4 L1220.6 358.3 L1222.0 354.1 L1223.4 349.9 L1224.8 345.7 L1226.3 341.5 L1227.7 337.4 L1229.2 333.2 L1230.8 329.0 L1232.3 324.8 L1233.9 320.7 L1235.5 316.5 L1237.2 312.3 L1238.8 308.1 L1240.6 303.9 L1242.3 299.8 L1244.1 295.6 L1246.0 291.4 L1247.8 287.2 L1249.8 283.1 L1251.7 278.9 L1253.7 274.7 L1255.6 270.5 L1257.7 266.3 L1259.7 262.2 L1261.7 258.0 L1263.8 253.8 L1265.8 249.6 L1267.9 245.5 L1269.9 241.3 L1272.0 237.1 L1274.0 232.9 L1276.0 228.7 L1278.0 224.6 L1279.9 220.4 L1281.8 216.2 L1283.7 212.0 L1285.6 207.9 L1287.4 203.7 L1289.1 199.5 L1290.8 195.3 L1292.5 191.1 L1294.1 187.0 L1295.6 182.8 L1297.1 178.6 L1298.5 174.4 L1299.9 170.3 L1301.2 166.1 L1302.4 161.9 L1303.6 157.7 L1304.8 153.5 L1305.8 149.4 L1306.9 145.2 L1307.8 141.0 L1308.7 136.8 L1309.6 132.7 L1310.4 128.5 L1311.2 124.3 L1311.9 120.1 L1312.5 115.9 L1313.2 111.8 L1313.7 107.6 L1314.3 103.4 L1314.8 99.2 L1315.3 95.1 L1315.7 90.9 L1316.1 86.7 L1316.5 82.5 L1316.9 78.3 L1317.2 74.2 L1328.4 74.2 L1328.7 78.3 L1329.1 82.5 L1329.5 86.7 L1329.9 90.9 L1330.3 95.1 L1330.8 99.2 L1331.3 103.4 L1331.9 107.6 L1332.4 111.8 L1333.1 115.9 L1333.7 120.1 L1334.4 124.3 L1335.2 128.5 L1336.0 132.7 L1336.9 136.8 L1337.8 141.0 L1338.7 145.2 L1339.8 149.4 L1340.8 153.5 L1342.0 157.7 L1343.2 161.9 L1344.4 166.1 L1345.7 170.3 L1347.1 174.4 L1348.5 178.6 L1350.0 182.8 L1351.5 187.0 L1353.1 191.1 L1354.8 195.3 L1356.5 199.5 L1358.2 203.7 L1360.0 207.9 L1361.9 212.0 L1363.8 216.2 L1365.7 220.4 L1367.6 224.6 L1369.6 228.7 L1371.6 232.9 L1373.6 237.1 L1375.7 241.3 L1377.7 245.5 L1379.8 249.6 L1381.8 253.8 L1383.9 258.0 L1385.9 262.2 L1387.9 266.3 L1390.0 270.5 L1391.9 274.7 L1393.9 278.9 L1395.8 283.1 L1397.8 287.2 L1399.6 291.4 L1401.5 295.6 L1403.3 299.8 L1405.0 303.9 L1406.8 308.1 L1408.4 312.3 L1410.1 316.5 L1411.7 320.7 L1413.3 324.8 L1414.8 329.0 L1416.4 333.2 L1417.9 337.4 L1419.3 341.5 L1420.8 345.7 L1422.2 349.9 L1423.6 354.1 L1425.0 358.3 L1426.4 362.4 L1427.8 366.6 L1429.2 370.8 L1430.6 375.0 L1432.0 379.1 L1433.4 383.3 L1434.8 387.5 L1436.2 391.7 L1437.6 395.9 L1439.0 400.0 L1440.5 404.2 L1441.9 408.4 L1443.3 412.6 L1444.7 416.7 L1446.1 420.9 L1447.5 425.1 L1448.9 429.3 L1450.3 433.5 L1451.6 437.6 L1452.9 441.8 L1454.1 446.0 L1455.3 450.2 L1456.5 454.3 L1457.5 458.5 L1458.6 462.7 L1459.5 466.9 L1460.4 471.1 L1461.2 475.2 L1461.9 479.4 L1462.5 483.6 L1463.0 487.8 L1463.4 491.9 L1463.7 496.1 L1464.0 500.3 L1464.1 504.5 L1464.1 508.7 L1464.0 512.8 L1463.9 517.0 L1463.6 521.2 L1463.3 525.4 L1462.8 529.5 L1462.3 533.7 L1461.7 537.9 L1461.0 542.1 L1460.2 546.3 L1459.4 550.4 L1458.5 554.6 L1457.5 558.8 L1456.5 563.0 L1455.4 567.1 L1454.3 571.3 L1453.1 575.5 L1451.9 579.7 L1450.7 583.9 L1449.4 588.0 L1448.2 592.2 L1446.9 596.4 L1445.5 600.6 L1444.2 604.7 L1442.8 608.9 L1441.4 613.1 L1440.1 617.3 L1438.7 621.5 L1437.3 625.6 L1435.9 629.8 L1434.5 634.0 L1433.0 638.2 L1431.6 642.3 L1430.2 646.5 L1428.8 650.7 L1427.4 654.9 L1426.0 659.1 L1424.6 663.2 L1423.2 667.4 L1421.8 671.6 L1420.5 675.8 L1419.1 679.9 L1417.8 684.1 L1416.5 688.3 L1415.2 692.5 L1413.9 696.7 L1412.6 700.8 L1411.4 705.0 L1410.1 709.2 L1409.0 713.4 L1407.8 717.5 L1406.7 721.7 L1405.5 725.9 L1404.5 730.1 L1403.4 734.3 L1402.4 738.4 L1401.5 742.6 L1400.6 746.8 L1399.7 751.0 L1398.8 755.1 L1398.0 759.3 L1397.3 763.5 L1396.5 767.7 L1395.9 771.9 L1395.2 776.0 L1394.6 780.2 L1394.1 784.4 L1393.5 788.6 L1393.0 792.7 L1392.6 796.9 L1392.1 801.1 L1391.7 805.3 L1391.4 809.5 L1391.0 813.6 L1390.7 817.8 L1390.4 822.0 L1390.1 826.2 L1389.8 830.3 L1389.5 834.5 L1389.2 838.7 L1388.9 842.9 L1388.7 847.1 L1388.4 851.2 L1388.1 855.4 L1387.8 859.6 L1387.4 863.8 L1387.1 867.9 L1386.7 872.1 L1386.3 876.3 L1385.9 880.5 L1385.4 884.7 L1384.9 888.8 L1384.4 893.0 L1383.8 897.2 L1383.2 901.4 L1382.6 905.5 L1381.9 909.7 L1381.2 913.9 L1380.4 918.1 L1379.6 922.3 L1378.7 926.4 L1377.9 930.6 L1376.9 934.8 L1376.0 939.0 L1375.0 943.1 L1374.0 947.3 L1372.9 951.5 L1371.8 955.7 L1370.7 959.9 L1369.6 964.0 L1368.4 968.2 L1367.3 972.4 L1366.1 976.6 L1364.9 980.7 L1363.7 984.9 L1362.5 989.1 L1361.3 993.3 L1360.1 997.5 L1358.9 1001.6 L1357.7 1005.8 L1356.5 1010.0 L1355.3 1014.2 L1354.2 1018.3 L1353.1 1022.5 L1351.9 1026.7 L1350.9 1030.9 L1349.8 1035.1 L1348.8 1039.2 L1347.8 1043.4 L1346.8 1047.6 L1345.9 1051.8 L1345.0 1055.9 L1344.1 1060.1 L1343.3 1064.3 L1342.5 1068.5 L1341.7 1072.7 L1340.9 1076.8 L1340.2 1081.0 L1339.5 1085.2 L1338.8 1089.4 L1338.2 1093.5 L1337.5 1097.7 L1336.9 1101.9 L1336.3 1106.1 L1335.8 1110.3 L1335.2 1114.4 L1334.7 1118.6 L1334.2 1122.8 L1333.7 1127.0 L1333.2 1131.1 L1332.7 1135.3 L1332.3 1139.5 Z" fill="#FFFFFF" fill-opacity="0.2" stroke="#333333" stroke-width="3.5" stroke-linejoin="round"/>
<circle cx="562.2" cy="837.4" r="23.2" fill="#8B0000"/>
<circle cx="1323.3" cy="581.3" r="23.2" fill="#8B0000"/>
<line x1="757.0" y1="837.2" x2="575.3" y2="837.2" stroke="#000" stroke-width="4.3" stroke-dasharray="6.4 9.6 18.4 9.6"/>
<rect x="756.2" y="803.3" width="221.1" height="67.6" rx="6.5" ry="6.5" fill="#FFFFFF" stroke="#000" stroke-width="2"/>
<text class="hat" text-anchor="middle" transform="translate(781.9 835.1) scale(2.18 1.02)">^</text>
<text class="mu" transform="translate(770.8 849.7) scale(1.1 1)" stroke="#000" stroke-width="0.7">μ</text>
<text class="sub" transform="translate(792.5 857.2) scale(1 1.035)">mean</text>
<text class="eq" text-anchor="middle" transform="translate(874.0 848.9) scale(1.58 1)">=</text>
<text class="lb" transform="translate(892.2 850.3) scale(1 1.045)">6.36</text>
<line x1="1517.0" y1="581.3" x2="1335.6" y2="581.3" stroke="#000" stroke-width="4.3" stroke-dasharray="6.4 9.6 18.4 9.6"/>
<rect x="1516.2" y="546.8" width="221.1" height="67.6" rx="6.5" ry="6.5" fill="#FFFFFF" stroke="#000" stroke-width="2"/>
<text class="hat" text-anchor="middle" transform="translate(1541.9 578.6) scale(2.18 1.02)">^</text>
<text class="mu" transform="translate(1530.8 593.2) scale(1.1 1)" stroke="#000" stroke-width="0.7">μ</text>
<text class="sub" transform="translate(1552.5 600.7) scale(1 1.035)">mean</text>
<text class="eq" text-anchor="middle" transform="translate(1634.0 592.4) scale(1.58 1)">=</text>
<text class="lb" transform="translate(1652.2 593.8) scale(1 1.045)">7.24</text>
<g fill="#333333" shape-rendering="crispEdges">
<rect x="96" y="65.0" width="10.2" height="4"/>
<rect x="96" y="356.0" width="10.2" height="4"/>
<rect x="96" y="648.0" width="10.2" height="4"/>
<rect x="96" y="940.0" width="10.2" height="4"/>
<rect x="560.0" y="1193" width="4" height="10"/>
<rect x="1321.0" y="1193" width="4" height="10"/>
</g>
<text class="ax" text-anchor="end" transform="translate(89.0 79.6) scale(1 1.04)">9</text>
<text class="ax" text-anchor="end" transform="translate(89.0 371.4) scale(1 1.04)">8</text>
<text class="ax" text-anchor="end" transform="translate(89.0 663.7) scale(1 1.04)">7</text>
<text class="ax" text-anchor="end" transform="translate(89.0 955.9) scale(1 1.04)">6</text>
<text class="ax" text-anchor="middle" transform="translate(561.3 1236.9) scale(1 1.035)" style="letter-spacing:-0.85px">Healthy</text>
<text class="ax" text-anchor="middle" transform="translate(562.3 1273) scale(1 1.0)">(n = 10)</text>
<text class="ax" text-anchor="middle" transform="translate(1322.7 1236.9) scale(1 1.035)" style="letter-spacing:-0.5px">Case</text>
<text class="ax" text-anchor="middle" transform="translate(1323.0 1273) scale(1 1.0)">(n = 168)</text>
<text class="ttl" transform="translate(52.2 606.2) rotate(-90) scale(1 1.04)" text-anchor="middle">Molecule Expression (log2)</text>
</svg></body></html>
